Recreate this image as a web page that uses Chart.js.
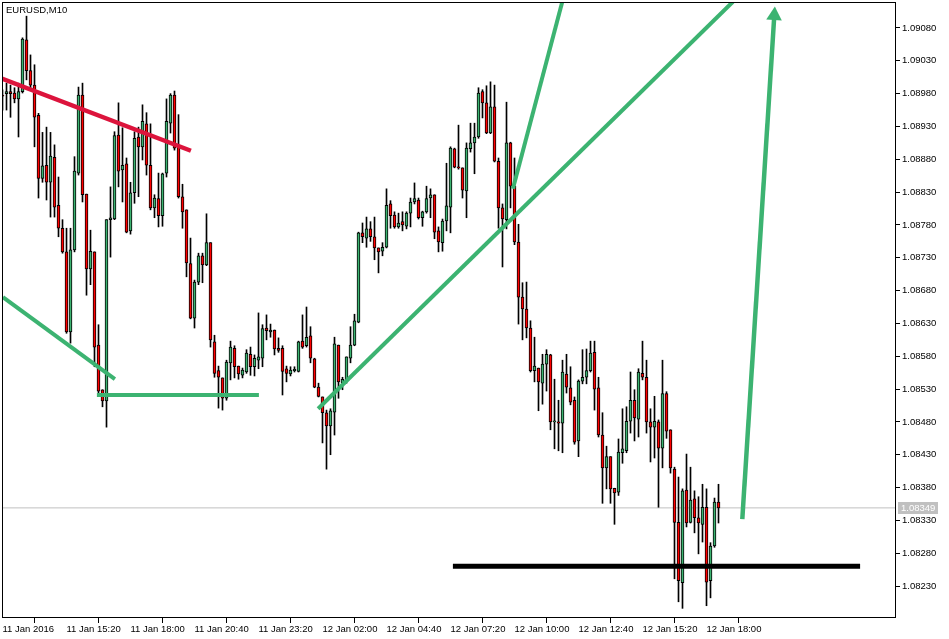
<!DOCTYPE html>
<html>
<head>
<meta charset="utf-8">
<script src="https://cdn.jsdelivr.net/npm/chart.js@4.4.1/dist/chart.umd.min.js"></script>
<style>
  html, body { margin: 0; padding: 0; background: #fff; }
  canvas { display: block; }
</style>
</head>
<body>
<canvas id="chart" width="949" height="639"></canvas>
<script>
const symbolTitle = "EURUSD,M10";
const bidPrice = 1.08349;

// M10 bars, one value per bar
const open = [
  1.08978,1.08980,1.08983,1.08981,1.08972,1.08983,1.09062,1.09015,1.08993,1.08947,
  1.08851,1.08871,1.08845,1.08883,1.08810,1.08775,1.08739,1.08617,1.08742,1.08859,
  1.08978,1.08827,1.08713,1.08739,1.08597,1.08529,1.08512,1.08788,1.08789,1.08917,
  1.08864,1.08873,1.08771,1.08829,1.08914,1.08899,1.08934,1.08871,1.08806,1.08820,
  1.08794,1.08859,1.08935,1.08978,1.08899,1.08823,1.08803,1.08721,1.08638,1.08693,
  1.08733,1.08719,1.08753,1.08602,1.08558,1.08547,1.08516,1.08570,1.08592,1.08565,
  1.08551,1.08556,1.08583,1.08564,1.08574,1.08577,1.08623,1.08617,1.08620,1.08592,
  1.08592,1.08561,1.08553,1.08558,1.08557,1.08603,1.08596,1.08611,1.08576,1.08533,
  1.08518,1.08494,1.08474,1.08495,1.08597,1.08539,1.08544,1.08577,1.08597,1.08632,
  1.08768,1.08760,1.08774,1.08762,1.08745,1.08740,1.08746,1.08812,1.08795,1.08777,
  1.08785,1.08778,1.08798,1.08815,1.08818,1.08791,1.08800,1.08821,1.08826,1.08771,
  1.08753,1.08786,1.08807,1.08896,1.08868,1.08867,1.08832,1.08896,1.08905,1.08914,
  1.08983,1.08966,1.08920,1.08960,1.08877,1.08806,1.08788,1.08905,1.08839,1.08754,
  1.08670,1.08652,1.08623,1.08558,1.08562,1.08539,1.08568,1.08582,1.08480,1.08480,
  1.08478,1.08553,1.08532,1.08513,1.08451,1.08542,1.08548,1.08558,1.08586,1.08532,
  1.08460,1.08410,1.08427,1.08379,1.08373,1.08433,1.08436,1.08481,1.08513,1.08484,
  1.08554,1.08548,1.08480,1.08472,1.08480,1.08440,1.08523,1.08468,1.08408,1.08327,
  1.08235,1.08376,1.08327,1.08363,1.08334,1.08324,1.08350,1.08238,1.08291,1.08358
];
const high = [
  1.08986,1.08996,1.08993,1.08989,1.08996,1.09065,1.09098,1.09039,1.09024,1.08950,
  1.08921,1.08929,1.08921,1.08902,1.08853,1.08788,1.08775,1.08775,1.08884,1.08990,
  1.08996,1.08827,1.08772,1.08739,1.08628,1.08529,1.08788,1.08838,1.08922,1.08966,
  1.08928,1.08882,1.08845,1.08922,1.08929,1.08963,1.08951,1.08934,1.08826,1.08859,
  1.08859,1.08972,1.08980,1.08984,1.08948,1.08842,1.08803,1.08760,1.08696,1.08737,
  1.08737,1.08797,1.08753,1.08612,1.08565,1.08547,1.08574,1.08603,1.08596,1.08565,
  1.08562,1.08590,1.08594,1.08582,1.08646,1.08628,1.08643,1.08629,1.08620,1.08608,
  1.08596,1.08565,1.08564,1.08564,1.08603,1.08643,1.08655,1.08625,1.08577,1.08539,
  1.08518,1.08498,1.08500,1.08609,1.08597,1.08548,1.08579,1.08625,1.08644,1.08769,
  1.08783,1.08792,1.08785,1.08792,1.08745,1.08753,1.08835,1.08817,1.08800,1.08798,
  1.08800,1.08800,1.08821,1.08844,1.08821,1.08801,1.08839,1.08835,1.08826,1.08777,
  1.08789,1.08874,1.08899,1.08897,1.08932,1.08867,1.08905,1.08935,1.08935,1.08989,
  1.08986,1.08992,1.08998,1.08993,1.08882,1.08812,1.08967,1.08906,1.08882,1.08781,
  1.08692,1.08693,1.08634,1.08609,1.08562,1.08583,1.08590,1.08583,1.08545,1.08513,
  1.08574,1.08583,1.08564,1.08518,1.08544,1.08590,1.08591,1.08603,1.08603,1.08548,
  1.08494,1.08443,1.08427,1.08379,1.08454,1.08500,1.08503,1.08556,1.08529,1.08561,
  1.08603,1.08574,1.08500,1.08519,1.08483,1.08574,1.08526,1.08468,1.08411,1.08396,
  1.08378,1.08431,1.08411,1.08375,1.08366,1.08385,1.08378,1.08296,1.08364,1.08385
];
const low = [
  1.08955,1.08955,1.08944,1.08966,1.08914,1.08981,1.09001,1.08989,1.08899,1.08821,
  1.08845,1.08818,1.08792,1.08792,1.08762,1.08737,1.08615,1.08600,1.08739,1.08856,
  1.08815,1.08673,1.08689,1.08564,1.08524,1.08503,1.08472,1.08731,1.08788,1.08838,
  1.08815,1.08768,1.08766,1.08813,1.08823,1.08879,1.08856,1.08803,1.08791,1.08777,
  1.08778,1.08853,1.08920,1.08894,1.08821,1.08775,1.08701,1.08637,1.08623,1.08689,
  1.08692,1.08718,1.08594,1.08548,1.08501,1.08498,1.08513,1.08544,1.08547,1.08545,
  1.08547,1.08554,1.08551,1.08550,1.08561,1.08564,1.08605,1.08609,1.08582,1.08586,
  1.08521,1.08541,1.08550,1.08556,1.08556,1.08592,1.08594,1.08570,1.08532,1.08518,
  1.08448,1.08408,1.08430,1.08460,1.08516,1.08529,1.08539,1.08570,1.08596,1.08631,
  1.08753,1.08746,1.08755,1.08727,1.08707,1.08733,1.08745,1.08775,1.08775,1.08775,
  1.08771,1.08774,1.08777,1.08812,1.08789,1.08778,1.08798,1.08791,1.08759,1.08739,
  1.08740,1.08771,1.08768,1.08867,1.08865,1.08821,1.08791,1.08891,1.08858,1.08912,
  1.08943,1.08919,1.08919,1.08876,1.08775,1.08716,1.08774,1.08806,1.08750,1.08629,
  1.08605,1.08608,1.08556,1.08541,1.08497,1.08507,1.08527,1.08468,1.08439,1.08436,
  1.08433,1.08524,1.08506,1.08446,1.08427,1.08538,1.08538,1.08556,1.08498,1.08457,
  1.08356,1.08378,1.08356,1.08324,1.08368,1.08417,1.08433,1.08463,1.08451,1.08457,
  1.08544,1.08463,1.08419,1.08425,1.08350,1.08410,1.08455,1.08402,1.08241,1.08206,
  1.08196,1.08320,1.08326,1.08311,1.08279,1.08297,1.08200,1.08212,1.08289,1.08326
];
const close = [
  1.08976,1.08983,1.08980,1.08972,1.08983,1.09063,1.09015,1.08993,1.08944,1.08851,
  1.08870,1.08845,1.08885,1.08807,1.08775,1.08739,1.08617,1.08742,1.08862,1.08978,
  1.08826,1.08713,1.08740,1.08594,1.08527,1.08512,1.08788,1.08791,1.08916,1.08862,
  1.08871,1.08769,1.08829,1.08912,1.08899,1.08938,1.08871,1.08806,1.08821,1.08794,
  1.08858,1.08938,1.08978,1.08897,1.08823,1.08800,1.08722,1.08638,1.08693,1.08733,
  1.08719,1.08753,1.08605,1.08554,1.08548,1.08516,1.08571,1.08594,1.08564,1.08553,
  1.08559,1.08585,1.08564,1.08577,1.08579,1.08622,1.08619,1.08620,1.08591,1.08589,
  1.08557,1.08554,1.08559,1.08560,1.08602,1.08594,1.08609,1.08577,1.08533,1.08519,
  1.08494,1.08474,1.08497,1.08599,1.08541,1.08545,1.08579,1.08597,1.08634,1.08768,
  1.08762,1.08774,1.08762,1.08745,1.08739,1.08746,1.08810,1.08794,1.08777,1.08783,
  1.08780,1.08798,1.08815,1.08820,1.08791,1.08800,1.08820,1.08826,1.08769,1.08754,
  1.08786,1.08809,1.08897,1.08868,1.08867,1.08833,1.08897,1.08905,1.08914,1.08981,
  1.08966,1.08920,1.08960,1.08877,1.08806,1.08789,1.08905,1.08839,1.08754,1.08670,
  1.08652,1.08623,1.08558,1.08565,1.08541,1.08568,1.08583,1.08480,1.08481,1.08478,
  1.08556,1.08533,1.08510,1.08449,1.08542,1.08548,1.08558,1.08585,1.08530,1.08460,
  1.08410,1.08427,1.08378,1.08372,1.08434,1.08439,1.08481,1.08513,1.08486,1.08556,
  1.08548,1.08480,1.08472,1.08481,1.08440,1.08523,1.08466,1.08410,1.08327,1.08238,
  1.08375,1.08326,1.08361,1.08334,1.08326,1.08350,1.08236,1.08291,1.08358,1.08349
];

// time axis: one label every 16 bars
const timeTickIndex = [0, 16, 32, 48, 64, 80, 96, 112, 128, 144, 160, 176];
const timeTickLabels = [
  "11 Jan 2016", "11 Jan 15:20", "11 Jan 18:00", "11 Jan 20:40", "11 Jan 23:20", "12 Jan 02:00",
  "12 Jan 04:40", "12 Jan 07:20", "12 Jan 10:00", "12 Jan 12:40", "12 Jan 15:20", "12 Jan 18:00"
];
const priceTicks = [
  1.08230, 1.08280, 1.08330, 1.08380, 1.08430, 1.08480, 1.08530, 1.08580, 1.08630,
  1.08680, 1.08730, 1.08780, 1.08830, 1.08880, 1.08930, 1.08980, 1.09030, 1.09080
];

// drawn objects: [bar index, price] end points
const trendLines = [
  { from: [-0.625, 1.09004], to: [47.1, 1.08893], color: "#dc143c", width: 4.5 },
  { from: [0.1, 1.08670], to: [28.1, 1.08545], color: "#3cb371", width: 4 },
  { from: [23.6, 1.08521], to: [64.1, 1.08521], color: "#3cb371", width: 4 },
  { from: [78.9, 1.08500], to: [182.6, 1.09120], color: "#3cb371", width: 4 },
  { from: [127.6, 1.08835], to: [139.95, 1.09120], color: "#3cb371", width: 4 },
  { from: [112.6, 1.08260], to: [214.4, 1.08260], color: "#000000", width: 5 }
];
const arrowLine = { from: [184.95, 1.08332], to: [192.95, 1.09099], color: "#3cb371", width: 4.5 };

const UP = "#3cb371";
const DOWN = "#ff0000";
const FONT = "Liberation Sans";

const framePlugin = {
  id: "frame",
  afterDraw(chart) {
    const { ctx, chartArea: a, scales } = chart;
    ctx.save();
    ctx.strokeStyle = "#000";
    ctx.lineWidth = 1;
    ctx.strokeRect(a.left + 0.5, a.top + 0.5, a.right - a.left - 1, a.bottom - a.top - 1);

    ctx.font = `9.5px "${FONT}"`;
    ctx.fillStyle = "#000";
    ctx.textBaseline = "alphabetic";
    ctx.fillText(symbolTitle, 6, 13);

    const y = Math.round(scales.y.getPixelForValue(bidPrice));
    ctx.fillStyle = "#c0c0c0";
    ctx.fillRect(898, y - 6, 40, 12);
    ctx.fillStyle = "#fff";
    ctx.textBaseline = "middle";
    ctx.fillText(bidPrice.toFixed(5), 901, y + 0.5);
    ctx.restore();
  }
};

function lineSet(l, extra = {}) {
  return {
    type: "line",
    data: [{ x: l.from[0], y: l.from[1] }, { x: l.to[0], y: l.to[1] }],
    borderColor: l.color,
    backgroundColor: l.color,
    borderWidth: l.width,
    pointRadius: 0,
    fill: false,
    order: 0,
    ...extra
  };
}

Chart.defaults.font.family = FONT;
Chart.defaults.font.size = 9.5;
Chart.defaults.color = "#000";

new Chart(document.getElementById("chart"), {
  type: "bar",
  data: {
    datasets: [
      {
        type: "line",
        data: [{ x: -1, y: bidPrice }, { x: 224, y: bidPrice }],
        borderColor: "#c0c0c0",
        borderWidth: 1,
        pointRadius: 0,
        order: 3
      },
      {
        label: "wick",
        data: low.map((l, i) => ({ x: i, y: [l, high[i]] })),
        backgroundColor: "#000",
        barThickness: 1,
        grouped: false,
        order: 2
      },
      {
        label: "body",
        data: open.map((o, i) => ({ x: i, y: [o, close[i]] })),
        backgroundColor: open.map((o, i) => (close[i] >= o ? UP : DOWN)),
        borderColor: "#000",
        borderWidth: 1,
        borderSkipped: false,
        barThickness: 3,
        minBarLength: 1,
        grouped: false,
        order: 1
      },
      ...trendLines.map((l) => lineSet(l)),
      lineSet(arrowLine, {
        pointRadius: [0, 9],
        pointStyle: "triangle",
        pointRotation: 3.6,
        pointBackgroundColor: arrowLine.color,
        pointBorderWidth: 0
      })
    ]
  },
  options: {
    responsive: false,
    animation: false,
    devicePixelRatio: 1,
    layout: { autoPadding: false, padding: { left: 2, top: 2, right: 0, bottom: 0 } },
    plugins: { legend: { display: false }, tooltip: { enabled: false } },
    scales: {
      x: {
        type: "linear",
        min: -0.125,
        max: 223.375,
        offset: false,
        afterBuildTicks: (s) => { s.ticks = timeTickIndex.map((v) => ({ value: v })); },
        afterFit: (s) => { s.height = 21; s.paddingLeft = 0; s.paddingRight = 0; },
        grid: { drawOnChartArea: false, tickLength: 5, color: "#000" },
        border: { display: false },
        ticks: {
          align: "start",
          autoSkip: false,
          maxRotation: 0,
          padding: 1,
          callback: (v) => timeTickLabels[timeTickIndex.indexOf(v)]
        }
      },
      y: {
        position: "right",
        min: 1.081813,
        max: 1.091196,
        afterBuildTicks: (s) => { s.ticks = priceTicks.map((v) => ({ value: v })); },
        afterFit: (s) => { s.width = 53; s.paddingTop = 0; s.paddingBottom = 0; },
        grid: { drawOnChartArea: false, tickLength: 4, color: "#000" },
        border: { display: false },
        ticks: { padding: 2, callback: (v) => v.toFixed(5) }
      }
    }
  },
  plugins: [framePlugin]
});
</script>
</body>
</html>
